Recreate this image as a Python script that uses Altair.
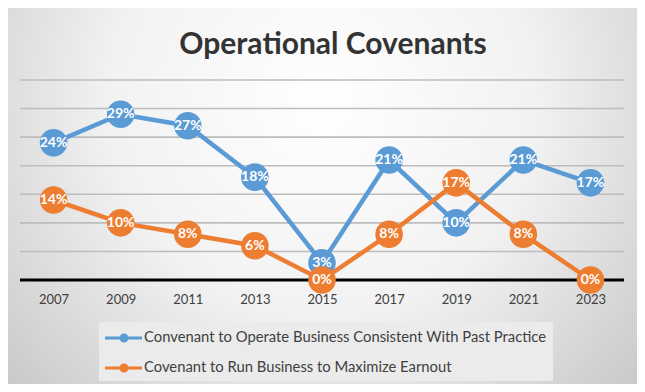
import altair as alt
import pandas as pd

years = ["2007", "2009", "2011", "2013", "2015", "2017", "2019", "2021", "2023"]
series_names = [
    "Convenant to Operate Business Consistent With Past Practice",
    "Covenant to Run Business to Maximize Earnout",
]
past_practice = [24, 29, 27, 18, 3, 21, 10, 21, 17]
earnout = [14, 10, 8, 6, 0, 8, 17, 8, 0]
colors = ["#5B9BD5", "#ED7D31"]
grid_values = [5, 10, 15, 20, 25, 30, 35]
baseline_value = [0]
title_text = "Operational Covenants"

rows = []
for name, vals in zip(series_names, [past_practice, earnout]):
    for y, v in zip(years, vals):
        rows.append({"year": y, "value": v, "series": name, "label": f"{v}%"})
df = pd.DataFrame(rows)

W, H = 604, 200
PAD = {"left": 12, "top": 72, "right": 13, "bottom": 104}

x_enc = alt.X("year:N", sort=years, scale=alt.Scale(type="point", padding=0.5),
              axis=alt.Axis(title=None, labelAngle=0, ticks=False, domain=False,
                            labelColor="#404040", labelFontSize=13,
                            labelFont="Lato", labelPadding=13, grid=False, zindex=1))
y_scale = alt.Scale(domain=[0, 35], nice=False)
y_enc = alt.Y("value:Q", scale=y_scale, axis=None)

bg = alt.Chart(pd.DataFrame({"a": [0]})).mark_rect(
    fill=alt.RadialGradient(
        gradient="radial",
        stops=[alt.GradientStop(color="#ffffff", offset=0),
               alt.GradientStop(color="#f2f2f2", offset=0.45),
               alt.GradientStop(color="#c0c0c0", offset=1)],
        x1=0.5, y1=0.35, r1=0, x2=0.5, y2=0.35, r2=0.75),
    clip=False,
).encode(x=alt.value(-PAD["left"]), x2=alt.value(W + PAD["right"]),
         y=alt.value(-PAD["top"]), y2=alt.value(H + PAD["bottom"]))

grid = alt.Chart(pd.DataFrame({"g": grid_values})).mark_rule(
    color="#bdbdbd", strokeWidth=1.6).encode(y=alt.Y("g:Q", scale=y_scale, axis=None))

zero_line = alt.Chart(pd.DataFrame({"z": baseline_value})).mark_rule(
    color="#000000", strokeWidth=3).encode(y=alt.Y("z:Q", scale=y_scale, axis=None))

title = alt.Chart(pd.DataFrame({"t": [title_text]})).mark_text(
    font="Lato", fontSize=30, fontWeight="bold", color="#333333",
    align="center", baseline="middle").encode(
    x=alt.value(W / 2 + 11), y=alt.value(-35), text="t:N")

legend = alt.Legend(
    title=None, orient="none", legendX=79, legendY=242, direction="vertical",
    fillColor="#ebebeb", padding=6, rowPadding=13,
    symbolType="M-1,-0.16H2.7V0.16H-1Z M1.35,0A0.45,0.45 0 1,1 0.45,0A0.45,0.45 0 1,1 1.35,0Z",
    symbolSize=400, symbolStrokeWidth=0, symbolOpacity=1,
    labelFont="Lato", labelFontSize=14.8, labelColor="#404040", labelLimit=0, labelOffset=19,
)

layers = [bg, grid, zero_line, title]
for i, name in enumerate(series_names):
    base = alt.Chart(df).transform_filter(alt.datum.series == name)
    line = base.mark_line(color=colors[i], strokeWidth=4.5).encode(x=x_enc, y=y_enc)
    pts = base.mark_circle(size=760, opacity=1).encode(
        x=x_enc, y=y_enc,
        color=alt.Color("series:N", scale=alt.Scale(domain=series_names, range=colors),
                        legend=legend))
    txt = base.mark_text(color="white", fontWeight="bold", fontSize=14, font="Lato",
                         baseline="middle", align="center").encode(
        x=x_enc, y=y_enc, text="label:N")
    layers += [line, pts, txt]

chart = alt.layer(*layers).properties(
    width=W, height=H,
    autosize=alt.AutoSizeParams(type="none"),
    padding=PAD,
).configure_view(stroke=None).configure(background="#c8c8c8")

chart.save("out.html", embed_options={"renderer": "svg", "actions": False})
